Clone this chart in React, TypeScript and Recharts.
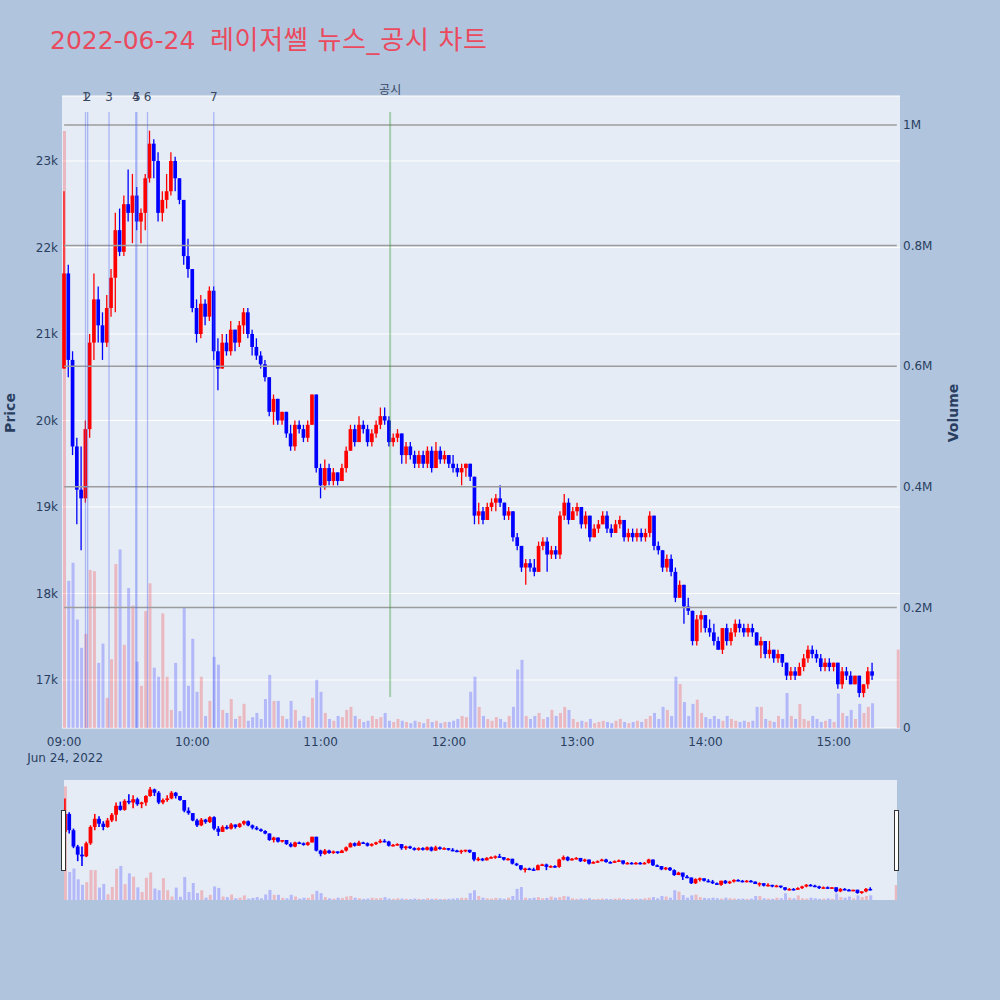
import React from 'react';
import { ComposedChart, Bar, XAxis, YAxis, CartesianGrid, ReferenceLine } from 'recharts';

const FONT = "'DejaVu Sans', 'Noto Sans CJK KR', sans-serif";

// minutes after 09:00 (2-minute candles)
const minutes = [
  0,2,4,6,8,10,12,14,16,18, 20,22,24,26,28,30,32,34,36,38,
  40,42,44,46,48,50,52,54,56,58, 60,62,64,66,68,70,72,74,76,78,
  80,82,84,86,88,90,92,94,96,98, 100,102,104,106,108,110,112,114,116,118,
  120,122,124,126,128,130,132,134,136,138, 140,142,144,146,148,150,152,154,156,158,
  160,162,164,166,168,170,172,174,176,178, 180,182,184,186,188,190,192,194,196,198,
  200,202,204,206,208,210,212,214,216,218, 220,222,224,226,228,230,232,234,236,238,
  240,242,244,246,248,250,252,254,256,258, 260,262,264,266,268,270,272,274,276,278,
  280,282,284,286,288,290,292,294,296,298, 300,302,304,306,308,310,312,314,316,318,
  320,322,324,326,328,330,332,334,336,338, 340,342,344,346,348,350,352,354,356,358,
  360,362,364,366,368,370,372,374,376,378,
];

const opens = [
  20600,21700,20700,19700,19200,19100,19900,20900,21400,21100,
  20900,21300,21650,22200,21950,22500,22400,22600,22300,22400,
  22800,23200,23000,22400,22550,22650,23000,22800,22550,21900,
  21750,21300,21000,21350,21200,21500,20800,20600,20900,20800,
  21050,20900,21100,21250,21000,20850,20750,20650,20500,20100,
  20250,20000,20100,19850,19700,19950,19900,19800,19950,20300,
  19450,19250,19450,19300,19400,19300,19450,19650,19900,19750,
  19950,19900,19750,19850,19950,20050,20000,19750,19800,19850,
  19600,19700,19600,19500,19600,19500,19650,19450,19650,19550,
  19600,19500,19450,19400,19450,19500,19350,18900,18950,18850,
  19000,19050,19100,19050,18900,18950,18650,18550,18300,18350,
  18300,18250,18550,18600,18450,18500,18450,18900,19050,18850,
  18950,19000,18800,18900,18650,18750,18800,18900,18750,18700,
  18800,18850,18650,18700,18650,18700,18650,18700,18900,18550,
  18500,18300,18400,18250,17950,18100,17850,17800,17450,17700,
  17750,17600,17550,17450,17350,17600,17450,17550,17650,17600,
  17550,17600,17550,17400,17450,17300,17350,17250,17300,17200,
  17050,17100,17050,17150,17250,17350,17300,17250,17150,17200,
  17150,17200,16950,17100,17050,16950,17050,16850,16950,17100,
];

const highs = [
  22650,21800,20800,19800,19700,20000,21000,21700,21550,21250,
  21450,21750,22400,22450,22600,22900,22850,22700,22450,22850,
  23350,23250,23100,22650,22850,23100,23050,22800,22550,22100,
  21750,21400,21450,21400,21550,21550,20950,21000,21000,21150,
  21050,21150,21300,21300,21050,20950,20800,20700,20500,20300,
  20250,20100,20100,19950,20000,20000,19950,20000,20300,20300,
  19500,19550,19500,19450,19400,19500,19700,19950,19950,20050,
  20000,19950,19900,20000,20150,20150,20050,19850,19900,19850,
  19750,19750,19650,19650,19650,19700,19700,19750,19700,19650,
  19600,19600,19500,19500,19500,19500,19350,19050,19000,19050,
  19100,19150,19250,19050,19000,18950,18700,18550,18400,18400,
  18400,18600,18650,18650,18550,18550,18950,19150,19100,19000,
  19050,19000,18950,18900,18800,18850,18950,18950,18800,18850,
  18900,18850,18750,18750,18750,18750,18750,18950,18900,18600,
  18500,18450,18450,18300,18150,18100,17950,17800,17750,17800,
  17750,17700,17650,17500,17600,17650,17600,17700,17700,17650,
  17650,17650,17550,17500,17450,17450,17350,17350,17300,17200,
  17150,17150,17200,17300,17400,17400,17350,17300,17250,17250,
  17200,17200,17150,17150,17100,17050,17050,16950,17150,17200,
];

const lows = [
  20600,20500,19600,18800,18500,19050,19800,20700,20900,20700,
  20850,21200,21250,21900,21900,22300,22050,22200,22050,22200,
  22750,22800,22300,22300,22450,22600,22650,22500,21800,21650,
  21250,20900,20950,21100,21150,20700,20350,20600,20750,20750,
  20800,20850,21000,20950,20750,20700,20600,20450,20050,19950,
  19950,19950,19800,19650,19650,19850,19750,19750,19950,19400,
  19100,19200,19250,19250,19250,19300,19400,19650,19700,19750,
  19850,19700,19700,19800,19900,19950,19700,19700,19750,19500,
  19500,19550,19450,19450,19450,19450,19400,19450,19500,19500,
  19450,19400,19350,19250,19350,19300,18800,18800,18800,18850,
  18950,18950,19000,18850,18850,18600,18500,18250,18100,18250,
  18200,18250,18500,18250,18400,18400,18400,18850,18800,18850,
  18900,18750,18750,18600,18650,18700,18800,18700,18650,18700,
  18750,18600,18600,18600,18600,18600,18600,18650,18500,18450,
  18250,18250,18200,17900,17950,17650,17750,17400,17400,17550,
  17550,17500,17400,17350,17300,17400,17400,17500,17550,17500,
  17500,17500,17400,17250,17250,17250,17200,17200,17150,17000,
  17000,17000,17050,17100,17200,17250,17200,17100,17100,17100,
  17100,16900,16900,17000,16950,16950,16800,16800,16900,17000,
];

const closes = [
  21700,20700,19700,19200,19100,19900,20900,21400,21100,20900,
  21300,21650,22200,21950,22500,22400,22600,22300,22400,22800,
  23200,23000,22400,22550,22650,23000,22800,22550,21900,21750,
  21300,21000,21350,21200,21500,20800,20600,20900,20800,21050,
  20900,21100,21250,21000,20850,20750,20650,20500,20100,20250,
  20000,20100,19850,19700,19950,19900,19800,19950,20300,19450,
  19250,19450,19300,19400,19300,19450,19650,19900,19750,19950,
  19900,19750,19850,19950,20050,20000,19750,19800,19850,19600,
  19700,19600,19500,19600,19500,19650,19450,19650,19550,19600,
  19500,19450,19400,19450,19500,19350,18900,18950,18850,19000,
  19050,19100,19050,18900,18950,18650,18550,18300,18350,18300,
  18250,18550,18600,18450,18500,18450,18900,19050,18850,18950,
  19000,18800,18900,18650,18750,18800,18900,18750,18700,18800,
  18850,18650,18700,18650,18700,18650,18700,18900,18550,18500,
  18300,18400,18250,17950,18100,17850,17800,17450,17700,17750,
  17600,17550,17450,17350,17600,17450,17550,17650,17600,17550,
  17600,17550,17400,17450,17300,17350,17250,17300,17200,17050,
  17100,17050,17150,17250,17350,17300,17250,17150,17200,17150,
  17200,16950,17100,17050,16950,17050,16850,16950,17100,17050,
];

// volume in thousands of shares
const volumesK = [
  990,244,274,180,133,156,262,260,108,140,
  50,114,272,296,138,232,203,110,70,194,
  240,100,85,190,85,30,108,28,200,70,
  148,60,85,20,45,118,105,30,25,48,
  15,20,40,12,18,25,15,48,88,45,
  45,20,15,45,30,12,20,18,50,80,
  60,25,15,12,20,18,30,35,20,15,
  10,12,20,15,18,25,12,10,15,12,
  10,8,12,10,8,15,10,12,8,10,
  10,12,15,20,18,60,85,35,20,15,
  12,18,15,10,20,35,97,113,20,15,
  20,25,15,18,30,20,25,35,30,15,
  10,12,10,15,8,10,12,10,8,12,
  15,10,8,10,12,10,15,20,25,15,
  35,30,20,85,73,43,20,40,47,25,
  18,15,20,15,12,20,15,12,10,12,
  10,12,35,35,15,12,10,20,15,58,
  20,15,40,15,12,20,15,10,12,15,
  10,57,25,20,30,15,40,25,35,41,
];

const closingAuctionMinute = 390;
const closingAuctionVolumeK = 130;

const eventMinutes = [10, 11, 21, 33.5, 34, 39, 70];
const eventLabels = ['1', '2', '3', '4', '5', '6', '7'];
const disclosureMinute = 152.5;
const disclosureLabel = '공시';

const priceTicks = [17000, 18000, 19000, 20000, 21000, 22000, 23000];
const volumeTicks = [0, 200000, 400000, 600000, 800000, 1000000];
const hourTicks = [0, 60, 120, 180, 240, 300, 360];
const hourLabels = ['09:00', '10:00', '11:00', '12:00', '13:00', '14:00', '15:00'];
const dateLabel = 'Jun 24, 2022';
const titleDate = '2022-06-24';
const titleText = '레이저쎌 뉴스_공시 차트';

const PRICE_DOMAIN: [number, number] = [16445, 23751];
const VOL_DOMAIN: [number, number] = [0, 1048000];
const LINE_TOP_PRICE = 23566;
const DISCLOSURE_BOTTOM_PRICE = 16803;

type Row = {
  t: number;
  open?: number;
  high?: number;
  low?: number;
  close?: number;
  range?: [number, number];
  volume: number;
  up: boolean;
};

const rows: Row[] = minutes.map((t, i) => ({
  t,
  open: opens[i],
  high: highs[i],
  low: lows[i],
  close: closes[i],
  range: [lows[i], highs[i]] as [number, number],
  volume: volumesK[i] * 1000,
  up: closes[i] >= opens[i],
}));
rows.push({ t: closingAuctionMinute, volume: closingAuctionVolumeK * 1000, up: true });

const makeCandle = (bodyW: number, wickW: number) => (props: any) => {
  const { x, y, width, height, payload } = props;
  if (!payload || payload.open == null || x == null || y == null) return <g />;
  const { open, close, high, low } = payload;
  const color = close >= open ? '#ff0000' : '#0000ff';
  const cx = x + width / 2;
  const h = Math.abs(height || 0);
  const top = Math.min(y, y + (height || 0));
  const k = high > low ? h / (high - low) : 0;
  const yO = top + (high - open) * k;
  const yC = top + (high - close) * k;
  const bt = Math.min(yO, yC);
  const bh = Math.max(Math.abs(yO - yC), 1.5);
  return (
    <g>
      <line x1={cx} x2={cx} y1={top} y2={top + Math.max(h, 1)} stroke={color} strokeWidth={wickW} />
      <rect x={cx - bodyW / 2} y={bt} width={bodyW} height={bh} fill={color} />
    </g>
  );
};

const CandleMain = makeCandle(3.7, 1.3);
const CandleMini = makeCandle(3.8, 1.6);

const VolumeShape = (props: any) => {
  const { x, y, width, height, payload } = props;
  if (x == null || y == null || !height) return <g />;
  const fill = payload && payload.up ? 'rgba(255,0,0,0.22)' : 'rgba(0,0,255,0.22)';
  return <rect x={x} y={Math.min(y, y + height)} width={width} height={Math.abs(height)} fill={fill} />;
};

const XTick = (props: any) => {
  const { x, y, payload } = props;
  const idx = hourTicks.indexOf(payload.value);
  return (
    <g>
      <text x={x} y={y + 11} textAnchor="middle" fill="#2a3f5f" fontSize={12} fontFamily={FONT}>
        {hourLabels[idx]}
      </text>
      {idx === 0 && (
        <text x={x + 1} y={y + 27} textAnchor="middle" fill="#2a3f5f" fontSize={12} fontFamily={FONT}>
          {dateLabel}
        </text>
      )}
    </g>
  );
};

const priceFmt = (v: number) => `${v / 1000}k`;
const volFmt = (v: number) => (v === 0 ? '0' : `${v / 1000000}M`);

const tickStyle = { fill: '#2a3f5f', fontSize: 12, fontFamily: FONT };

export default function App() {
  return (
    <div style={{ position: 'absolute', left: 0, top: 0, width: 1000, height: 1000, background: '#b0c4de', fontFamily: FONT }}>
      <div style={{ position: 'absolute', left: 0, top: 0 }}>
        <ComposedChart width={1000} height={780} data={rows} margin={{ top: 96, right: 50, bottom: 22, left: 12 }}>
          <CartesianGrid xAxisId="x" yAxisId="price" vertical={false} stroke="#ffffff" strokeWidth={1} fill="#e5ecf6" fillOpacity={1} />
          <XAxis
            xAxisId="x"
            dataKey="t"
            type="number"
            domain={[-1, 391]}
            ticks={hourTicks}
            interval={0}
            tick={<XTick />}
            tickLine={false}
            axisLine={false}
            tickSize={0}
            tickMargin={7}
            height={30}
            allowDataOverflow
          />
          <XAxis xAxisId="xv" dataKey="t" type="number" domain={[-1, 391]} hide allowDataOverflow />
          <YAxis
            yAxisId="price"
            orientation="left"
            domain={PRICE_DOMAIN}
            ticks={priceTicks}
            tickFormatter={priceFmt}
            width={50}
            tickLine={false}
            axisLine={false}
            tickSize={0}
            tickMargin={4}
            allowDataOverflow
            tick={tickStyle}
            interval={0}
          />
          <YAxis
            yAxisId="vol"
            orientation="right"
            domain={VOL_DOMAIN}
            ticks={volumeTicks}
            tickFormatter={volFmt}
            width={50}
            tickLine={false}
            axisLine={false}
            tickSize={0}
            tickMargin={3}
            allowDataOverflow
            tick={tickStyle}
            interval={0}
          />
          {volumeTicks
            .filter((v) => v > 0)
            .map((v) => (
              <ReferenceLine
                key={`vg${v}`}
                xAxisId="x"
                yAxisId="vol"
                segment={[
                  { x: 0, y: v },
                  { x: 389.5, y: v },
                ]}
                stroke="#9c9c9c"
                strokeWidth={1.5}
                ifOverflow="visible"
              />
            ))}
          <Bar xAxisId="xv" yAxisId="vol" dataKey="volume" barSize={3} shape={VolumeShape} isAnimationActive={false} />
          <Bar xAxisId="x" yAxisId="price" dataKey="range" barSize={4} shape={CandleMain} isAnimationActive={false} />
          {eventMinutes.map((m, i) => (
            <ReferenceLine
              key={`ev${i}`}
              xAxisId="x"
              yAxisId="price"
              segment={[
                { x: m, y: LINE_TOP_PRICE },
                { x: m, y: PRICE_DOMAIN[0] },
              ]}
              stroke="rgba(80,100,240,0.4)"
              strokeWidth={1.3}
              ifOverflow="visible"
              label={{ value: eventLabels[i], position: 'top', offset: 11, fill: '#3a4660', fontSize: 12, fontFamily: FONT }}
            />
          ))}
          <ReferenceLine
            xAxisId="x"
            yAxisId="price"
            segment={[
              { x: disclosureMinute, y: LINE_TOP_PRICE },
              { x: disclosureMinute, y: DISCLOSURE_BOTTOM_PRICE },
            ]}
            stroke="rgba(40,150,40,0.35)"
            strokeWidth={2}
            ifOverflow="visible"
            label={{ value: disclosureLabel, position: 'top', offset: 18, fill: '#3a4660', fontSize: 12, fontFamily: FONT }}
          />
        </ComposedChart>
      </div>

      <div style={{ position: 'absolute', left: 64, top: 780, width: 833, height: 120, background: '#e5ecf6' }} />
      <div style={{ position: 'absolute', left: 0, top: 780 }}>
        <ComposedChart width={1000} height={120} data={rows} margin={{ top: 0, right: 103, bottom: 0, left: 64 }}>
          <XAxis xAxisId="x" dataKey="t" type="number" domain={[-0.5, 390.5]} hide allowDataOverflow />
          <XAxis xAxisId="xv" dataKey="t" type="number" domain={[-0.5, 390.5]} hide allowDataOverflow />
          <YAxis yAxisId="price" domain={[16420, 23780]} hide allowDataOverflow />
          <YAxis yAxisId="vol" domain={[0, 1045000]} hide allowDataOverflow />
          <Bar xAxisId="xv" yAxisId="vol" dataKey="volume" barSize={3} shape={VolumeShape} isAnimationActive={false} />
          <Bar xAxisId="x" yAxisId="price" dataKey="range" barSize={4} shape={CandleMini} isAnimationActive={false} />
        </ComposedChart>
      </div>
      <div style={{ position: 'absolute', left: 61, top: 810, width: 3, height: 59, background: '#ffffff', border: '1px solid #333' }} />
      <div style={{ position: 'absolute', left: 894, top: 810, width: 3, height: 59, background: '#ffffff', border: '1px solid #333' }} />

      <svg width={1000} height={1000} style={{ position: 'absolute', left: 0, top: 0, pointerEvents: 'none' }}>
        <text x={50} y={49} fontSize={25} fill="#ea4a5e" fontFamily={FONT}>
          {titleDate}
        </text>
        <text x={210} y={49} fontSize={26} fill="#ea4a5e" fontFamily={FONT} textLength={277} lengthAdjust="spacing">
          {titleText}
        </text>
        <text transform="translate(15,413) rotate(-90)" textAnchor="middle" fontSize={14} fontWeight="bold" fill="#2a3f5f" fontFamily={FONT}>
          Price
        </text>
        <text transform="translate(958,413) rotate(-90)" textAnchor="middle" fontSize={14} fontWeight="bold" fill="#2a3f5f" fontFamily={FONT}>
          Volume
        </text>
      </svg>
    </div>
  );
}
